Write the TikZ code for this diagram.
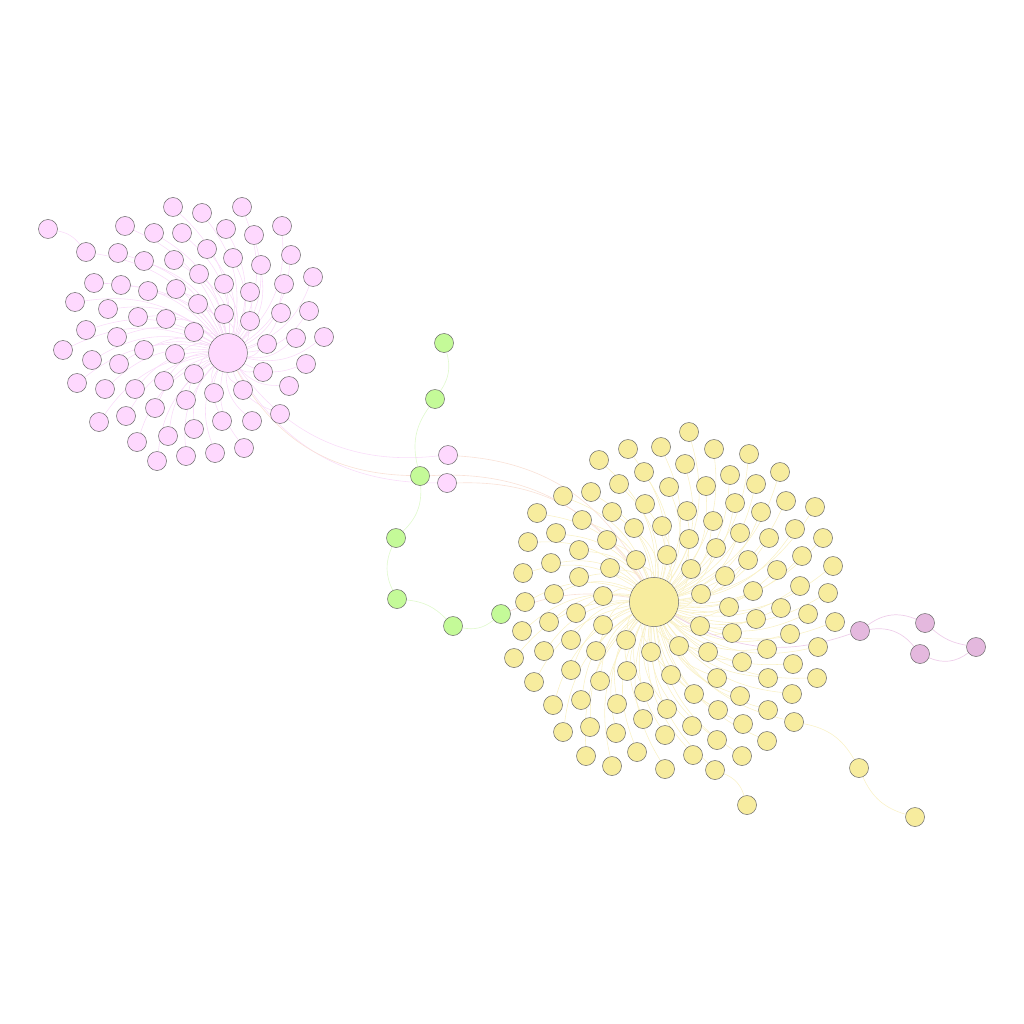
\documentclass[tikz,border=0pt]{standalone}
\usepackage{tikz}
\usetikzlibrary{backgrounds}

\definecolor{pinkfill}{RGB}{254,216,254}
\definecolor{yellowfill}{RGB}{247,236,158}
\definecolor{greenfill}{RGB}{196,250,152}
\definecolor{purplefill}{RGB}{228,184,222}
\definecolor{pinkedge}{RGB}{249,219,249}
\definecolor{yellowedge}{RGB}{249,241,198}
\definecolor{greenedge}{RGB}{225,249,206}
\definecolor{purpleedge}{RGB}{238,206,234}
\definecolor{mixedge}{RGB}{249,226,216}

\begin{document}
\begin{tikzpicture}[
  x=0.25mm, y=-0.25mm,
  nd/.style={circle, draw=black!60, line width=0.35pt, minimum size=4.75mm,
             inner sep=0pt},
  pnode/.style={nd, fill=pinkfill},
  ynode/.style={nd, fill=yellowfill},
  gnode/.style={nd, fill=greenfill},
  unode/.style={nd, fill=purplefill},
  pedge/.style={draw=pinkedge, line width=0.4pt},
  yedge/.style={draw=yellowedge, line width=0.4pt},
  gedge/.style={draw=greenedge, line width=0.45pt},
  uedge/.style={draw=purpleedge, line width=0.5pt},
  xedge/.style={draw=mixedge, line width=0.45pt}
]
\useasboundingbox (0,0) rectangle (1024,1024);

%% ---------- pink cluster ----------
\node[pnode, minimum size=9.7mm] (phub) at (228,353) {};
\foreach \x/\y [count=\i] in {
  173/207, 202/213, 242/207, 282/226, 125/226, 154/233, 182/233, 226/229,
  254/235, 86/252, 118/253, 207/249, 233/258, 144/261, 174/260, 261/265,
  291/255, 94/283, 121/285, 199/274, 224/284, 148/291, 176/289, 250/292,
  284/284, 313/277, 75/302, 108/309, 198/304, 224/314, 138/317, 166/319,
  250/321, 281/313, 309/311, 86/330, 117/337, 194/332, 324/337, 296/338,
  267/344, 63/350, 144/350, 175/354, 92/360, 119/364, 306/364, 263/372,
  194/374, 77/383, 105/389, 135/389, 164/381, 214/393, 243/390, 289/386,
  186/400, 155/408, 126/416, 99/422, 222/421, 252/421, 280/414, 194/429,
  168/436, 137/442, 244/448, 215/453, 186/456, 157/461}{
  \node[pnode] (pk\i) at (\x,\y) {};
  \begin{scope}[on background layer]
    \draw[pedge] (phub) to[bend right=25] (pk\i);
  \end{scope}
}
\node[pnode] (pkout) at (48,229) {};

%% ---------- yellow cluster ----------
\node[ynode, minimum size=12.3mm] (yhub) at (654,602) {};
\foreach \x/\y [count=\i] in {
  689/432, 628/449, 661/447, 714/449, 749/454, 599/460, 644/472, 685/464,
  730/475, 756/484, 780/472, 619/484, 669/487, 706/486, 563/496, 591/492,
  645/504, 735/503, 761/512, 786/501, 815/507, 537/513, 582/520, 612/512,
  687/511, 713/521, 634/528, 662/526, 740/533, 769/538, 795/529, 823/538,
  528/542, 556/533, 579/550, 607/540, 689/539, 716/548, 636/560, 667/555,
  748/560, 777/570, 802/556, 833/566, 523/573, 551/563, 579/577, 610/568,
  691/569, 725/576, 753/591, 800/586, 828/593, 525/602, 554/594, 603/596,
  701/594, 729/607, 781/608, 808/614, 835/622, 522/631, 549/622, 576/613,
  603/625, 700/626, 756/619, 790/634, 818/647, 514/658, 544/651, 571/640,
  596/651, 626/640, 651/652, 679/646, 708/652, 732/633, 767/649, 793/664,
  817/678, 534/682, 571/670, 600/681, 627/671, 671/675, 717/678, 742/662,
  768/678, 792/694, 553/705, 581/700, 617/704, 644/692, 694/694, 740/696,
  768/710, 794/722, 563/732, 590/727, 616/733, 643/719, 667/709, 718/710,
  743/724, 665/735, 692/726, 717/740, 767/741, 586/756, 612/766, 637/752,
  665/769, 693/755, 715/770, 742/756}{
  \node[ynode] (yl\i) at (\x,\y) {};
  \begin{scope}[on background layer]
    \draw[yedge] (yhub) to[bend right=25] (yl\i);
  \end{scope}
}
\node[ynode] (ylout1) at (859,768) {};
\node[ynode] (ylout2) at (915,817) {};
\node[ynode] (ylout3) at (747,805) {};

%% ---------- bridge between the clusters ----------
\node[pnode] (pkmid1) at (448,455) {};
\node[pnode] (pkmid2) at (447,483) {};
\node[gnode] (gr1) at (444,343) {};
\node[gnode] (gr2) at (435,399) {};
\node[gnode] (gr3) at (420,476) {};
\node[gnode] (gr4) at (396,538) {};
\node[gnode] (gr5) at (397,599) {};
\node[gnode] (gr6) at (453,626) {};
\node[gnode] (gr7) at (501,614) {};

%% ---------- purple group ----------
\node[unode] (pu1) at (860,631) {};
\node[unode] (pu2) at (925,623) {};
\node[unode] (pu3) at (920,654) {};
\node[unode] (pu4) at (976,647) {};

\begin{scope}[on background layer]
  \draw[pedge] (pk10) to[bend right=20] (pkout);
  \draw[yedge] (yl98) to[bend left=25] (ylout1);
  \draw[yedge] (ylout1) to[bend right=25] (ylout2);
  \draw[yedge] (yl115) to[bend left=25] (ylout3);
  % pink -> bridge -> yellow
  \draw[pedge] (phub) to[bend right=30] (pkmid1);
  \draw[pedge] (phub) to[bend right=30] (pkmid2);
  \draw[xedge] (phub) to[bend right=30] (gr3);
  \draw[xedge] (yhub) to[bend right=30] (pkmid1);
  \draw[xedge] (yhub) to[bend right=30] (pkmid2);
  \draw[xedge] (yhub) to[bend right=30] (gr3);
  % green chain
  \draw[gedge] (gr1) to[bend left=25] (gr2);
  \draw[gedge] (gr2) to[bend right=25] (gr3);
  \draw[gedge] (gr3) to[bend left=25] (gr4);
  \draw[gedge] (gr4) to[bend right=25] (gr5);
  \draw[gedge] (gr5) to[bend left=20] (gr6);
  \draw[gedge] (gr6) to[bend right=25] (gr7);
  \draw[xedge] (yhub) to[bend right=15] (gr7);
  % purple group
  \draw[uedge] (yhub) to[bend right=25] (pu1);
  \draw[uedge] (pu1) to[bend left=30] (pu2);
  \draw[uedge] (pu1) to[bend left=30] (pu3);
  \draw[uedge] (pu2) to[bend right=15] (pu4);
  \draw[uedge] (pu3) to[bend right=30] (pu4);
\end{scope}
\end{tikzpicture}
\end{document}
